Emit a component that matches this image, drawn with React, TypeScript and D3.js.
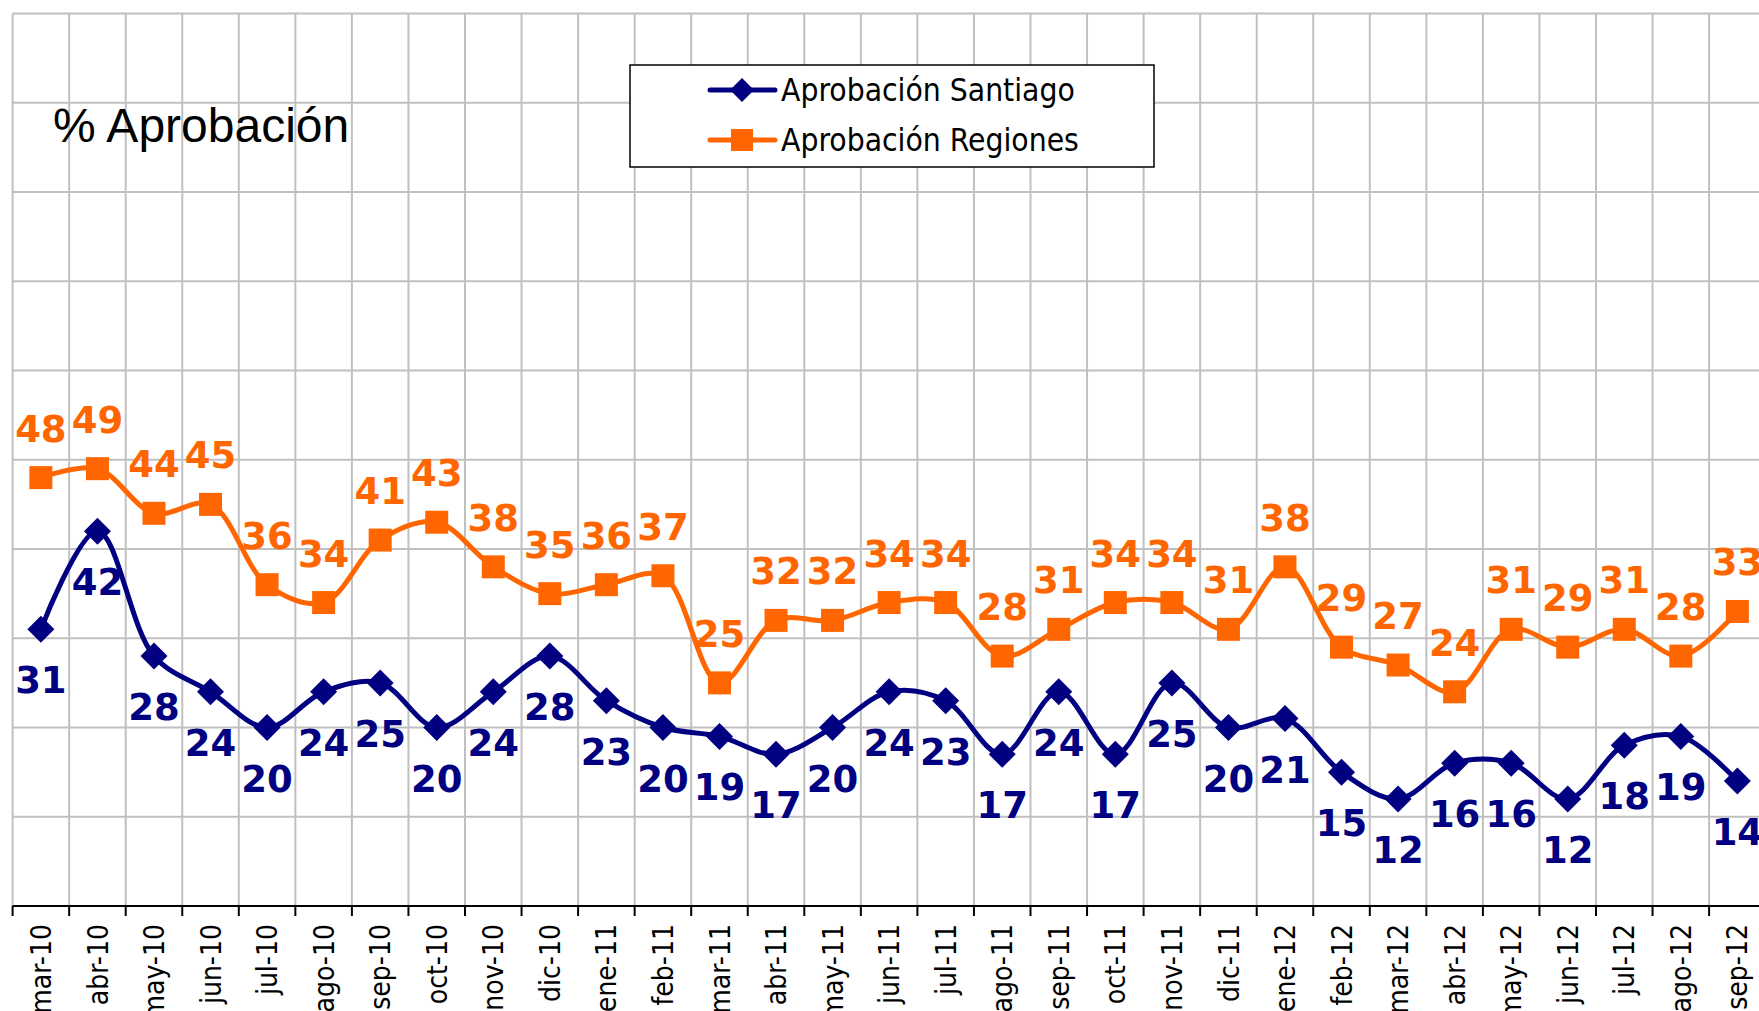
// Aprobación Santiago vs Regiones - monthly approval line chart
import React from 'react';
import * as d3 from 'd3';

const months = [
  'mar-10', 'abr-10', 'may-10', 'jun-10', 'jul-10', 'ago-10', 'sep-10', 'oct-10', 'nov-10', 'dic-10',
  'ene-11', 'feb-11', 'mar-11', 'abr-11', 'may-11', 'jun-11', 'jul-11', 'ago-11', 'sep-11', 'oct-11',
  'nov-11', 'dic-11', 'ene-12', 'feb-12', 'mar-12', 'abr-12', 'may-12', 'jun-12', 'jul-12', 'ago-12', 'sep-12',
];
const santiago = [31, 42, 28, 24, 20, 24, 25, 20, 24, 28, 23, 20, 19, 17, 20, 24, 23, 17, 24, 17, 25, 20, 21, 15, 12, 16, 16, 12, 18, 19, 14];
const regiones = [48, 49, 44, 45, 36, 34, 41, 43, 38, 35, 36, 37, 25, 32, 32, 34, 34, 28, 31, 34, 34, 31, 38, 29, 27, 24, 31, 29, 31, 28, 33];
const seriesNames = ['Aprobación Santiago', 'Aprobación Regiones'];
const chartTitle = '% Aprobación';

const NAVY = '#000080';
const ORANGE = '#FF6600';
const GRID = '#c0c0c0';
const condensed = "'DejaVu Sans Condensed', 'DejaVu Sans', sans-serif";

const width = 1759, height = 1011;
const plot = { left: 12.6, top: 13.5, bottom: 906, step: 56.55 };

export default function App() {
  const x = d3.scaleBand<string>()
    .domain(months)
    .range([plot.left, plot.left + plot.step * months.length])
    .padding(0);
  const y = d3.scaleLinear().domain([0, 100]).range([plot.bottom, plot.top]);
  const cx = (m: string) => (x(m) as number) + x.bandwidth() / 2;

  // excel-ish smoothed lines
  const line = d3.line<number>()
    .x((_, i) => cx(months[i]))
    .y(d => y(d))
    .curve(d3.curveCatmullRom.alpha(0.5));

  const right = plot.left + plot.step * months.length;
  const boundaries = months.map(m => x(m) as number).concat([right]);

  const diamond = (px: number, py: number, r: number) =>
    `M${px},${py - r}L${px + r},${py}L${px},${py + r}L${px - r},${py}Z`;

  return (
    <svg width={width} height={height} style={{ position: 'absolute', left: 0, top: 0, background: '#fff' }}>
      {/* gridlines */}
      {y.ticks(10).map(t => (
        <line key={`h${t}`} x1={plot.left} x2={right} y1={y(t)} y2={y(t)} stroke={GRID} strokeWidth={2} />
      ))}
      {boundaries.map((b, i) => (
        <line key={`v${i}`} x1={b} x2={b} y1={plot.top} y2={plot.bottom} stroke={GRID} strokeWidth={2} />
      ))}

      {/* bottom axis with ticks at category boundaries */}
      <line x1={plot.left} x2={right} y1={plot.bottom} y2={plot.bottom} stroke="#000" strokeWidth={2} />
      {boundaries.map((b, i) => (
        <line key={`t${i}`} x1={b} x2={b} y1={plot.bottom} y2={plot.bottom + 10} stroke="#000" strokeWidth={2} />
      ))}
      {months.map(m => (
        <text key={m} transform={`translate(${cx(m)}, ${plot.bottom + 18}) rotate(-90)`} textAnchor="end" dy="0.36em"
          style={{ fontFamily: condensed, fontStretch: 'condensed', fontSize: '28px' }} fill="#000">{m}</text>
      ))}

      {/* series lines */}
      <path d={line(regiones) || ''} fill="none" stroke={ORANGE} strokeWidth={5} />
      <path d={line(santiago) || ''} fill="none" stroke={NAVY} strokeWidth={5} />

      {/* markers */}
      {regiones.map((v, i) => (
        <rect key={`rs${i}`} x={cx(months[i]) - 11.5} y={y(v) - 11.5} width={23} height={23} fill={ORANGE} />
      ))}
      {santiago.map((v, i) => (
        <path key={`sd${i}`} d={diamond(cx(months[i]), y(v), 13.5)} fill={NAVY} />
      ))}

      {/* value labels */}
      {regiones.map((v, i) => (
        <text key={`rl${i}`} x={cx(months[i])} y={y(v) - 36} textAnchor="middle" fill={ORANGE}
          style={{ fontFamily: "'DejaVu Sans', sans-serif", fontWeight: 'bold', fontSize: '37px' }}>{v}</text>
      ))}
      {santiago.map((v, i) => (
        <text key={`sl${i}`} x={cx(months[i])} y={y(v) + 64} textAnchor="middle" fill={NAVY}
          style={{ fontFamily: "'DejaVu Sans', sans-serif", fontWeight: 'bold', fontSize: '37px' }}>{v}</text>
      ))}

      {/* title */}
      <text x={53} y={142} style={{ fontFamily: "'Liberation Sans', Arial, sans-serif", fontSize: '48px' }} fill="#000">{chartTitle}</text>

      {/* legend */}
      <rect x={630} y={65} width={524} height={102} fill="#fff" stroke="#000" strokeWidth={1.5} />
      {seriesNames.map((name, i) => {
        const ly = 90 + i * 50;
        const color = i === 0 ? NAVY : ORANGE;
        return (
          <g key={name}>
            <line x1={710} x2={775} y1={ly} y2={ly} stroke={color} strokeWidth={5} strokeLinecap="round" />
            {i === 0
              ? <path d={diamond(742, ly, 12)} fill={NAVY} />
              : <rect x={731} y={ly - 11} width={22} height={22} fill={ORANGE} />}
            <text x={781} y={ly + 11} style={{ fontFamily: condensed, fontStretch: 'condensed', fontSize: '31.5px' }} fill="#000">{name}</text>
          </g>
        );
      })}
    </svg>
  );
}
